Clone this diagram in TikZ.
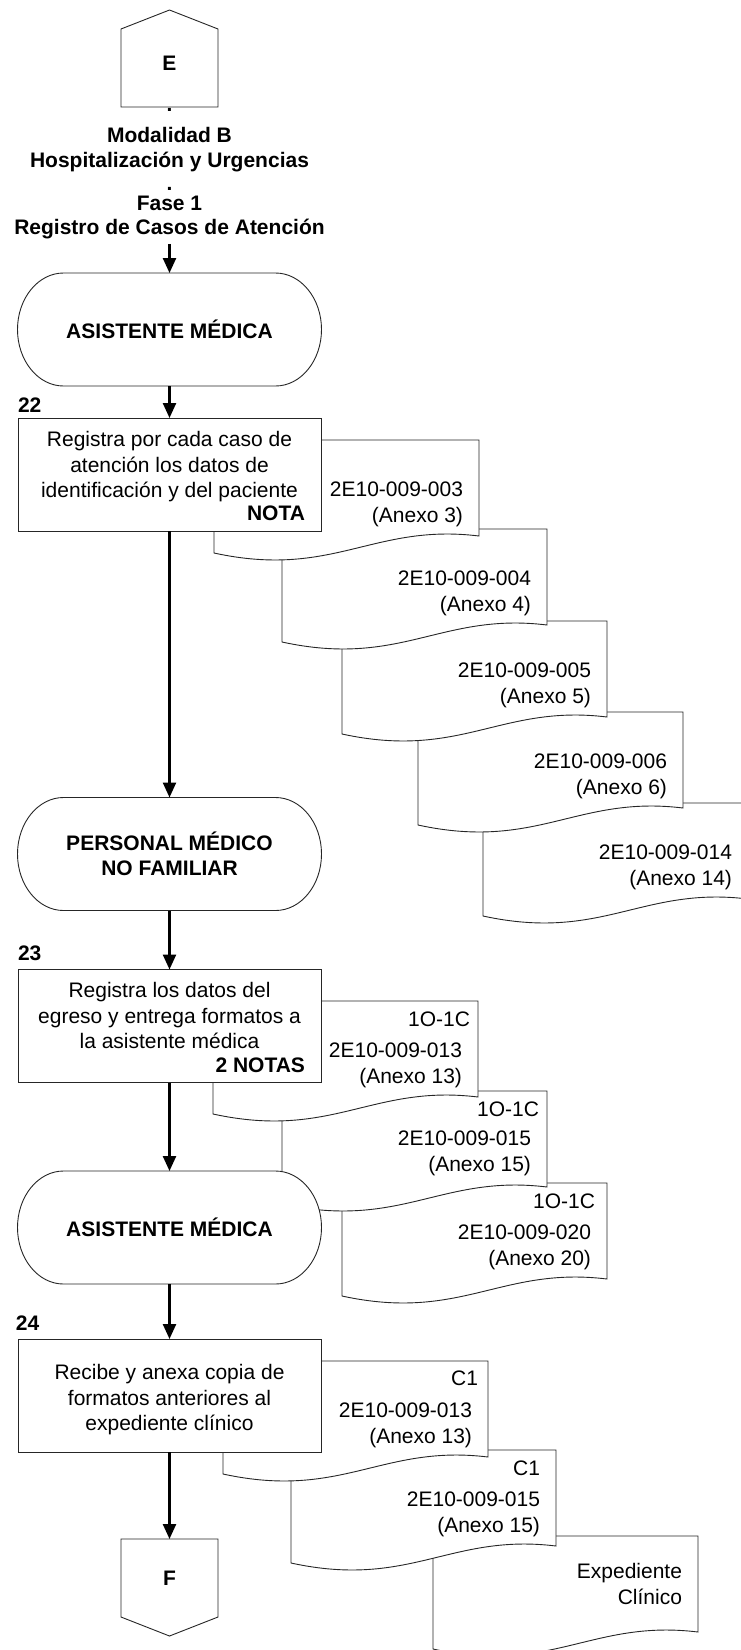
\documentclass[tikz,border=0pt]{standalone}
\usepackage{fontspec}
\setmainfont{Liberation Sans}
\usetikzlibrary{arrows.meta,calc}

% document sheet with a wavy lower edge: #1 left, #2 top (y grows downwards)
\newcommand\docsheet[2]{%
  \draw[shapeline] (#1,#2) -- (#1+265,#2) -- (#1+265,#2+96)
    .. controls (#1+159,#2+83) and (#1+119.25,#2+139) .. (#1,#2+113) -- cycle;}

% terminal (stadium) shape with its label: #1 name, #2 x, #3 y, #4 text
\newcommand\terminal[4]{%
  \draw[shapeline] (#2-106,#3-56.5) -- (#2+106,#3-56.5)
    arc[start angle=90,end angle=-90,x radius=46pt,y radius=56.5pt]
    -- (#2-106,#3+56.5)
    arc[start angle=-90,end angle=-270,x radius=46pt,y radius=56.5pt] -- cycle;
  \node[termnode] (#1) at (#2,#3) {#4};}

\begin{document}
\begin{tikzpicture}[x=1pt,y=-1pt,
  every node/.style={inner sep=0pt,outer sep=0pt},
  shapeline/.style={draw=black!85,line width=0.9pt,fill=white},
  bodytext/.style={font=\fontsize{21}{25.5}\selectfont,align=center,anchor=base},
  boldtext/.style={font=\fontsize{21}{25.5}\selectfont\bfseries,align=center},
  doctext/.style={font=\fontsize{21}{26}\selectfont,align=right,anchor=base east},
  procbox/.style={shapeline,minimum width=303pt,minimum height=113pt},
  termnode/.style={boldtext,minimum width=304pt,minimum height=113pt},
  flowarrow/.style={draw=black,line width=2.4pt,-{Triangle[length=15pt,width=13pt]}},
  steplabel/.style={font=\fontsize{21}{25}\selectfont\bfseries,anchor=base west},
  notelabel/.style={font=\fontsize{21}{25}\selectfont\bfseries,anchor=base east},
]
\useasboundingbox (0,0) rectangle (741,1650);

% ---- forms of step 22 (lowest sheet first)
\docsheet{483}{803}
\docsheet{418}{712}
\docsheet{342}{621}
\docsheet{282}{529}
\docsheet{214}{440}
% ---- forms of step 23
\docsheet{342}{1183}
\docsheet{282}{1091}
\docsheet{213}{1001}
% ---- forms of step 24
\docsheet{433}{1536}
\docsheet{291}{1450}
\docsheet{223}{1361}

% multi-line labels sit on the baseline of their last line
\node[doctext] (d5) at (732,885) {2E10-009-014\\(Anexo 14)};
\node[doctext] (d4) at (667,794) {2E10-009-006\\(Anexo 6)};
\node[doctext] (d3) at (591,703) {2E10-009-005\\(Anexo 5)};
\node[doctext] (d2) at (531,611) {2E10-009-004\\(Anexo 4)};
\node[doctext] (d1) at (463,522) {2E10-009-003\\(Anexo 3)};

\node[doctext] (dC) at (591,1265) {1O-1C\hspace*{-4pt}\\[5pt]2E10-009-020\\(Anexo 20)};
\node[doctext] (dB) at (531,1171) {1O-1C\hspace*{-8pt}\\[3pt]2E10-009-015\\(Anexo 15)};
\node[doctext] (dA) at (462,1083) {1O-1C\hspace*{-8pt}\\[5pt]2E10-009-013\\(Anexo 13)};

\node[doctext] (dF) at (682,1604.5) {Expediente\\Clínico};
\node[doctext] (dE) at (540,1532.5) {C1\\[5pt]2E10-009-015\\(Anexo 15)};
\node[doctext] (dD) at (472,1443) {C1\hspace*{-6pt}\\[6pt]2E10-009-013\\(Anexo 13)};

% ---- off-page connector E
\node[boldtext,anchor=base] (h0) at (169.5,111) {.};
\draw[shapeline] (121,107) -- (121,29) -- (169.5,10) -- (218,29) -- (218,107) -- cycle;
\node[boldtext,minimum width=97pt,minimum height=88pt] (E) at (169.5,63) {E};

% ---- heading
\node[boldtext,anchor=base] (h1) at (169.5,142.5) {Modalidad B};
\node[boldtext,anchor=base] (h2) at (169.5,167.5) {Hospitalización y Urgencias};
\node[boldtext,anchor=base] (h3) at (169.5,190) {.};
\node[boldtext,anchor=base] (h4) at (169.5,210.5) {Fase 1};
\node[boldtext,anchor=base] (h5) at (169.5,234.5) {Registro de Casos de Atención};

% ---- main flow
\terminal{t1}{169.5}{329.5}{ASISTENTE MÉDICA}

\node[steplabel] (s22) at (18,412.5) {22};
\node[procbox] (b22) at (169.5,474.5) {};
\node[bodytext] (b22t) at (169.5,497.5) {Registra por cada caso de\\atención los datos de\\identificación y del paciente};
\node[notelabel] (n22) at (305,520.5) {NOTA};

\terminal{t2}{169.5}{854}{PERSONAL MÉDICO\\NO FAMILIAR}

\node[steplabel] (s23) at (18,960.5) {23};
\node[procbox] (b23) at (169.5,1026) {};
\node[bodytext] (b23t) at (169.5,1048.5) {Registra los datos del\\egreso y entrega formatos a\\la asistente médica};
\node[notelabel] (n23) at (305,1072.5) {2 NOTAS};

\terminal{t3}{169.5}{1227.5}{ASISTENTE MÉDICA}

\node[steplabel] (s24) at (16,1330.5) {24};
\node[procbox] (b24) at (169.5,1395.5) {};
\node[bodytext] (b24t) at (169.5,1430.5) {Recibe y anexa copia de\\formatos anteriores al\\expediente clínico};

% ---- off-page connector F
\draw[shapeline] (121,1539) -- (218,1539) -- (218,1617) -- (169.5,1636) -- (121,1617) -- cycle;
\node[boldtext,minimum width=97pt,minimum height=78pt] (F) at (169.5,1578) {F};

% ---- connectors
\draw[flowarrow,shorten <=5pt] (h5) -- (t1);
\draw[flowarrow] (t1) -- (b22);
\draw[flowarrow] (b22) -- (t2);
\draw[flowarrow] (t2) -- (b23);
\draw[flowarrow] (b23) -- (t3);
\draw[flowarrow] (t3) -- (b24);
\draw[flowarrow] (b24) -- (F);
\end{tikzpicture}
\end{document}
